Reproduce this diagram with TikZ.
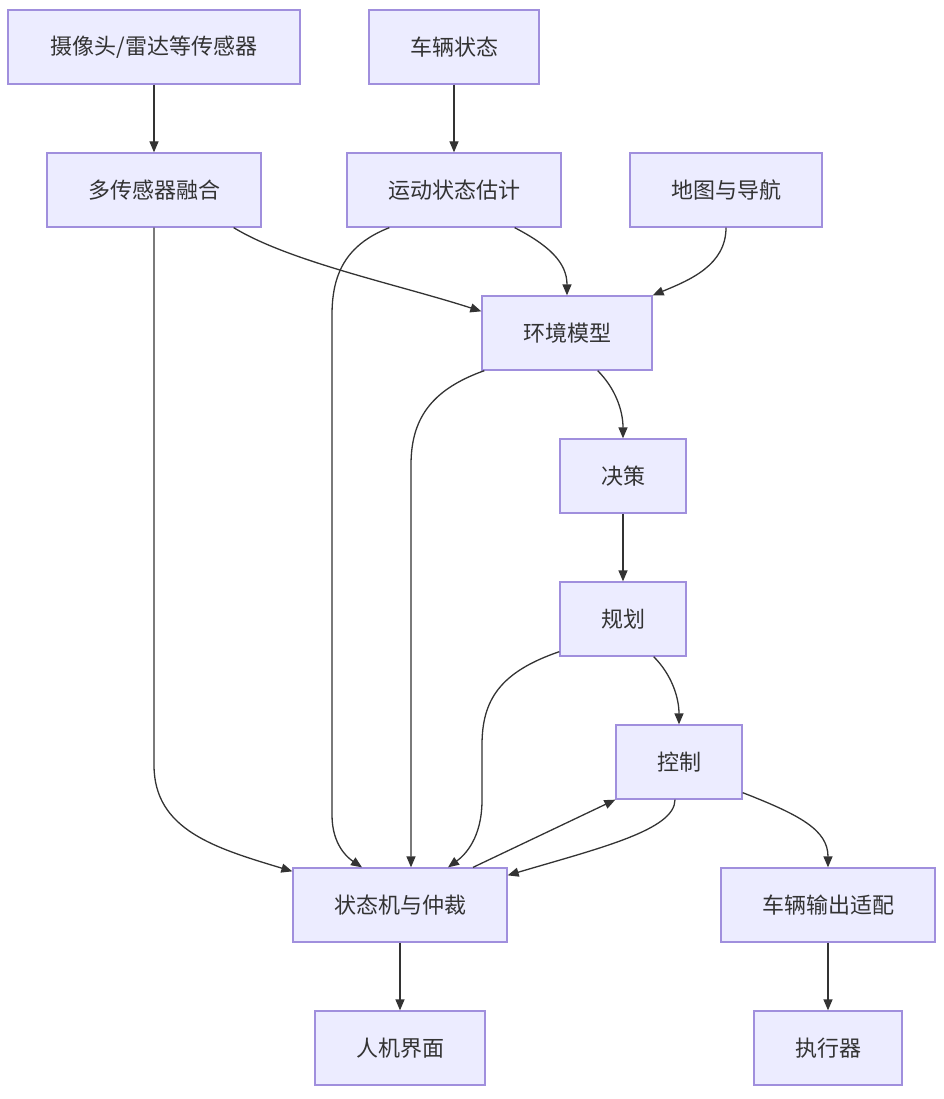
\documentclass[tikz,border=0pt]{standalone}
\usepackage{fontspec}
\setmainfont{Noto Sans CJK SC}
\usetikzlibrary{arrows.meta,calc}
\definecolor{boxfill}{HTML}{ECECFF}
\definecolor{boxline}{HTML}{A08FDD}
\definecolor{ink}{HTML}{333333}
\begin{document}
\begin{tikzpicture}[x=1pt,y=-1pt,
  box/.style={draw=boxline,fill=boxfill,line width=1.3pt,minimum height=74pt,inner sep=0pt,
    text=ink,font=\fontsize{22}{26}\selectfont},
  conn/.style={draw=ink,line width=1.3pt,-{Triangle[length=11pt,width=9pt]}}]
\useasboundingbox (0,0) rectangle (943,1099);
\node[box,minimum width=292pt] (n1) at (154,47) {摄像头/雷达等传感器};
\node[box,minimum width=170pt] (n2) at (454,47) {车辆状态};
\node[box,minimum width=214pt] (n3) at (154,190) {多传感器融合};
\node[box,minimum width=214pt] (n4) at (454,190) {运动状态估计};
\node[box,minimum width=192pt] (n5) at (726,190) {地图与导航};
\node[box,minimum width=170pt] (n6) at (567,333) {环境模型};
\node[box,minimum width=126pt] (n7) at (623,476) {决策};
\node[box,minimum width=126pt] (n8) at (623,619) {规划};
\node[box,minimum width=126pt] (n9) at (679,762) {控制};
\node[box,minimum width=214pt] (n10) at (400,905) {状态机与仲裁};
\node[box,minimum width=214pt] (n11) at (828,905) {车辆输出适配};
\node[box,minimum width=170pt] (n12) at (400,1048) {人机界面};
\node[box,minimum width=148pt] (n13) at (828,1048) {执行器};

\draw[conn] (n1.south) -- (n1.south |- n3.north);
\draw[conn] (n2.south) -- (n2.south |- n4.north);
% 3 -> 6
\draw[conn] ($(n3.south east)+(-28,0)$) .. controls (290,262) and (400,285) .. ($(n6.north west)+(0,16)$);
% 3 -> 10
\draw[conn] (n3.south) -- (154,765) .. controls (154,830) and (215,848) .. ($(n10.north west)+(0,4)$);
% 4 -> 6
\draw[conn] ($(n4.south east)+(-47,0)$) .. controls (548,245) and (567,262) .. (n6.north);
% 4 -> 10
\draw[conn] ($(n4.south west)+(43,0)$) .. controls (345,245) and (332,275) .. (332,315) -- (332,815) .. controls (332,845) and (348,858) .. ($(n10.north)+(-38,0)$);
% 5 -> 6
\draw[conn] (n5.south) .. controls (726,265) and (690,280) .. (n6.north east);
% 6 -> 7
\draw[conn] ($(n6.south east)+(-55,0)$) .. controls (615,388) and (623,410) .. (n7.north);
% 6 -> 10
\draw[conn] ($(n6.south west)+(3,0)$) .. controls (430,390) and (411,420) .. (411,465) -- ($(n10.north)+(11,0)$);
% 7 -> 8
\draw[conn] (n7.south) -- (n8.north);
% 8 -> 9
\draw[conn] ($(n8.south east)+(-33,0)$) .. controls (672,675) and (679,698) .. (n9.north);
% 8 -> 10
\draw[conn] ($(n8.south west)+(0,-5)$) .. controls (500,672) and (482,700) .. (482,745) -- (482,800) .. controls (482,838) and (465,855) .. ($(n10.north)+(48,0)$);
% 9 -> 10
\draw[conn] ($(n9.south)+(-4,0)$) .. controls (675,830) and (600,848) .. ($(n10.north east)+(0,8)$);
% 10 -> 9
\draw[conn] ($(n10.north)+(73,0)$) -- (n9.south west);
% 9 -> 11
\draw[conn] ($(n9.south east)+(0,-7)$) .. controls (800,815) and (828,830) .. (n11.north);
\draw[conn] (n10.south) -- (n12.north);
\draw[conn] (n11.south) -- (n13.north);
\end{tikzpicture}
\end{document}
